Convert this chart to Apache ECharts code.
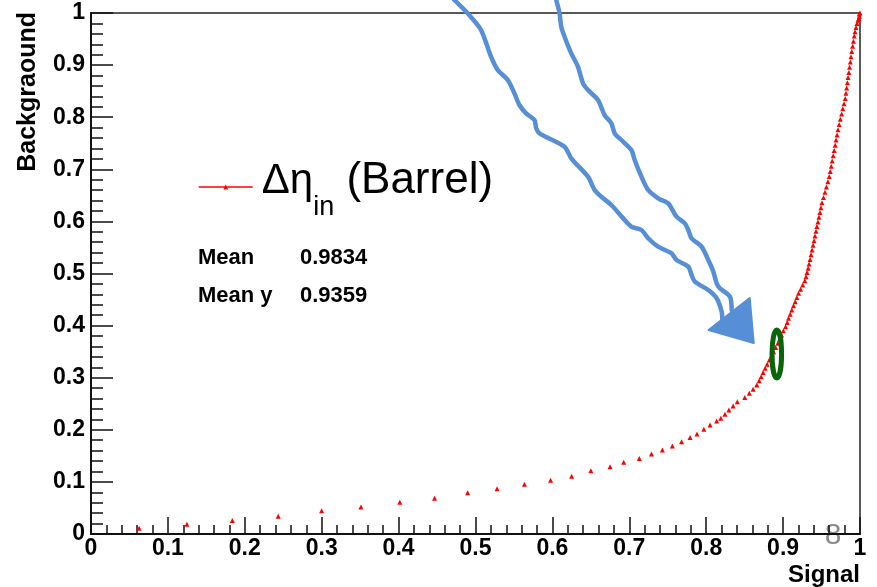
<!DOCTYPE html>
<html>
<head>
<meta charset="utf-8">
<script src="https://cdn.jsdelivr.net/npm/echarts@6/dist/echarts.min.js"></script>
<style>
  html, body { margin: 0; padding: 0; background: #fff; }
  #chart { width: 877px; height: 587px; }
</style>
</head>
<body>
<div id="chart"></div>
<script>
// ROC-style efficiency curve: background efficiency vs signal efficiency
const signal = [
  0.0626, 0.1247, 0.1838, 0.2434, 0.2999, 0.3510, 0.4016, 0.4468, 0.4898, 0.5280,
  0.5636, 0.5976, 0.6250, 0.6500, 0.6750, 0.6927, 0.7130, 0.7288, 0.7430, 0.7560,
  0.7680, 0.7790, 0.7880, 0.7970, 0.8050, 0.8136, 0.8190, 0.8244, 0.8296, 0.8350,
  0.8405, 0.8502, 0.8561, 0.8610, 0.8658, 0.8689, 0.8714, 0.8740, 0.8766, 0.8793,
  0.8820, 0.8848, 0.8876, 0.8903, 0.8931, 0.8955, 0.8980, 0.9003, 0.9032, 0.9054,
  0.9070, 0.9092, 0.9113, 0.9135, 0.9157, 0.9179, 0.9201, 0.9228, 0.9255, 0.9282,
  0.9298, 0.9312, 0.9326, 0.9338, 0.9351, 0.9364, 0.9377, 0.9390, 0.9403, 0.9415,
  0.9428, 0.9440, 0.9453, 0.9466, 0.9479, 0.9492, 0.9505, 0.9525, 0.9544, 0.9563,
  0.9582, 0.9600, 0.9613, 0.9626, 0.9638, 0.9651, 0.9664, 0.9677, 0.9689, 0.9702,
  0.9714, 0.9729, 0.9744, 0.9761, 0.9776, 0.9792, 0.9808, 0.9817, 0.9826, 0.9836,
  0.9845, 0.9855, 0.9864, 0.9874, 0.9883, 0.9893, 0.9904, 0.9915, 0.9925, 0.9936,
  0.9948, 0.9961, 0.9975, 0.9984, 0.9992, 0.9990, 1.0000
];
const background = [
  0.0110, 0.0186, 0.0260, 0.0340, 0.0448, 0.0520, 0.0608, 0.0685, 0.0793, 0.0870,
  0.0954, 0.1030, 0.1110, 0.1215, 0.1290, 0.1376, 0.1450, 0.1535, 0.1610, 0.1690,
  0.1770, 0.1850, 0.1920, 0.2010, 0.2090, 0.2170, 0.2220, 0.2297, 0.2380, 0.2457,
  0.2540, 0.2620, 0.2700, 0.2780, 0.2860, 0.2940, 0.3020, 0.3100, 0.3180, 0.3260,
  0.3340, 0.3420, 0.3500, 0.3580, 0.3660, 0.3740, 0.3820, 0.3900, 0.3980, 0.4060,
  0.4140, 0.4220, 0.4300, 0.4380, 0.4460, 0.4540, 0.4620, 0.4700, 0.4780, 0.4860,
  0.4940, 0.5020, 0.5100, 0.5180, 0.5270, 0.5360, 0.5450, 0.5540, 0.5630, 0.5720,
  0.5810, 0.5900, 0.5990, 0.6080, 0.6170, 0.6260, 0.6360, 0.6460, 0.6560, 0.6660,
  0.6760, 0.6860, 0.6960, 0.7060, 0.7160, 0.7260, 0.7360, 0.7460, 0.7560, 0.7660,
  0.7760, 0.7860, 0.7960, 0.8060, 0.8160, 0.8260, 0.8360, 0.8460, 0.8560, 0.8660,
  0.8760, 0.8860, 0.8960, 0.9060, 0.9160, 0.9260, 0.9360, 0.9460, 0.9560, 0.9640,
  0.9720, 0.9800, 0.9860, 0.9900, 0.9940, 0.9980, 1.0000
];

const seriesName = 'Δη in (Barrel)';
const xTitle = 'Signal';
const yTitle = 'Backgraound';
const statNames = ['Mean', 'Mean y'];
const statValues = ['0.9834', '0.9359'];

// Hand-drawn annotation: two wavy strokes ending in an arrowhead, plus a ring
// around the chosen working point (all in axis units).
const strokeA = [
  [0.4724, 1.0250], [0.4898, 0.9994], [0.5072, 0.9674], [0.5202, 0.9161], [0.5289, 0.8906],
  [0.5420, 0.8714], [0.5506, 0.8459], [0.5571, 0.8234], [0.5658, 0.8075], [0.5767, 0.7946],
  [0.5789, 0.7787], [0.5832, 0.7691], [0.6158, 0.7434], [0.6245, 0.7211], [0.6463, 0.6858],
  [0.6549, 0.6603], [0.6636, 0.6474], [0.6767, 0.6315], [0.6940, 0.6027], [0.7027, 0.5898],
  [0.7158, 0.5835], [0.7245, 0.5676], [0.7375, 0.5514], [0.7549, 0.5388], [0.7614, 0.5259],
  [0.7767, 0.5131], [0.7810, 0.4971], [0.7853, 0.4843], [0.8027, 0.4683], [0.8136, 0.4524],
  [0.8201, 0.4267], [0.8210, 0.4107]
];
const strokeB = [
  [0.6050, 1.0250], [0.6093, 0.9994], [0.6115, 0.9737], [0.6158, 0.9545], [0.6245, 0.9226],
  [0.6332, 0.8970], [0.6398, 0.8651], [0.6463, 0.8522], [0.6593, 0.8330], [0.6679, 0.8042],
  [0.6767, 0.7882], [0.6810, 0.7691], [0.6897, 0.7562], [0.7027, 0.7370], [0.7070, 0.7178],
  [0.7158, 0.6858], [0.7245, 0.6603], [0.7375, 0.6443], [0.7506, 0.6347], [0.7614, 0.6091],
  [0.7722, 0.5962], [0.7767, 0.5835], [0.7810, 0.5675], [0.7940, 0.5514], [0.8027, 0.5259],
  [0.8093, 0.5035], [0.8136, 0.4812], [0.8179, 0.4716], [0.8309, 0.4555], [0.8331, 0.4299]
];
const arrowHead = [[0.8031, 0.3916], [0.8566, 0.4530], [0.8618, 0.3666]];
const ring = [0.8918, 0.3455, 0.0062, 0.0459]; // centre x, centre y, half-width, half-height

const FONT = 'Liberation Sans, Arial, Helvetica, sans-serif';
const ANNOT_BLUE = '#568fd6';

const chart = echarts.init(document.getElementById('chart'), null, { renderer: 'canvas' });

const tickFmt = v => (v === 0 ? '0' : v === 1 ? '1' : v.toFixed(1));

chart.setOption({
  animation: false,
  backgroundColor: '#ffffff',
  grid: {
    left: 91, right: 17, top: 13, bottom: 53,
    outerBoundsMode: 'none', containLabel: false,
    show: true, borderColor: '#222', borderWidth: 1.5, backgroundColor: 'transparent'
  },
  xAxis: {
    type: 'value', min: 0, max: 1, interval: 0.1,
    axisLine: { onZero: false, lineStyle: { color: '#111', width: 2 } },
    axisTick: { inside: true, length: 17, lineStyle: { color: '#111', width: 1.5 } },
    minorTick: { show: true, splitNumber: 5, length: 9, lineStyle: { color: '#111', width: 1.5 } },
    splitLine: { show: false },
    axisLabel: {
      formatter: tickFmt, margin: 3,
      fontFamily: FONT, fontWeight: 'bold', fontSize: 23, color: '#000'
    }
  },
  yAxis: {
    type: 'value', min: 0, max: 1, interval: 0.1,
    axisLine: { show: true, onZero: false, lineStyle: { color: '#111', width: 2 } },
    axisTick: { show: true, inside: true, length: 22, lineStyle: { color: '#111', width: 1.5 } },
    minorTick: { show: true, splitNumber: 5, length: 12, lineStyle: { color: '#111', width: 1.5 } },
    splitLine: { show: false },
    axisLabel: {
      formatter: tickFmt, margin: 6,
      fontFamily: FONT, fontWeight: 'bold', fontSize: 23, color: '#000'
    }
  },
  legend: {
    data: [seriesName],
    left: 198, top: 159, padding: 0,
    itemWidth: 54, itemHeight: 6,
    lineStyle: { color: '#ff0000', width: 1.5, opacity: 1 },
    itemStyle: { color: '#ff0000' },
    formatter: () => '{d|Δη}{s|in}{b| (Barrel)}',
    textStyle: {
      color: '#000',
      rich: {
        d: { fontFamily: FONT, fontSize: 42, lineHeight: 50, padding: [0, 0, 12, 4] },
        s: { fontFamily: FONT, fontSize: 27, lineHeight: 50, verticalAlign: 'top', padding: [32, 0, 0, 0] },
        b: { fontFamily: FONT, fontSize: 44, lineHeight: 50, padding: [0, 0, 12, 0] }
      }
    }
  },
  graphic: [
    {
      type: 'text', x: 28, y: 12, rotation: Math.PI / 2,
      style: { text: yTitle, font: 'bold 25px ' + FONT, fill: '#000', align: 'right', verticalAlign: 'middle' }
    },
    {
      type: 'text', x: 860, y: 575,
      style: { text: xTitle, font: 'bold 24px ' + FONT, fill: '#000', align: 'right', verticalAlign: 'middle' }
    },
    { type: 'text', x: 198, y: 258, style: { text: statNames[0], font: 'bold 22px ' + FONT, fill: '#000', verticalAlign: 'middle' } },
    { type: 'text', x: 300, y: 258, style: { text: statValues[0], font: 'bold 22px ' + FONT, fill: '#000', verticalAlign: 'middle' } },
    { type: 'text', x: 198, y: 296, style: { text: statNames[1], font: 'bold 22px ' + FONT, fill: '#000', verticalAlign: 'middle' } },
    { type: 'text', x: 300, y: 296, style: { text: statValues[1], font: 'bold 22px ' + FONT, fill: '#000', verticalAlign: 'middle' } },
    { type: 'text', x: 833, y: 536, style: { text: '8', font: '30px ' + FONT, fill: '#8c8c8c', align: 'center', verticalAlign: 'middle' } }
  ],
  series: [
    {
      name: seriesName,
      type: 'line',
      data: signal.map((x, i) => [x, background[i]]),
      symbol: 'triangle', symbolSize: 5, showSymbol: true,
      itemStyle: { color: '#ff0000' },
      lineStyle: { width: 0, opacity: 0 },
      z: 3
    },
    {
      type: 'line', data: strokeA, silent: true, clip: false, smooth: 0.25,
      showSymbol: false, lineStyle: { color: ANNOT_BLUE, width: 4.5, cap: 'round', join: 'round' }, z: 5
    },
    {
      type: 'line', data: strokeB, silent: true, clip: false, smooth: 0.25,
      showSymbol: false, lineStyle: { color: ANNOT_BLUE, width: 4.5, cap: 'round', join: 'round' }, z: 5
    },
    {
      type: 'custom', silent: true, clip: false, z: 6,
      data: [arrowHead[0]],
      renderItem: (params, api) => ({
        type: 'polygon',
        shape: { points: arrowHead.map(p => api.coord(p)) },
        style: { fill: ANNOT_BLUE, stroke: ANNOT_BLUE, lineWidth: 2, lineJoin: 'round' }
      })
    },
    {
      type: 'custom', silent: true, clip: false, z: 6,
      data: [[ring[0], ring[1]]],
      renderItem: (params, api) => {
        const c = api.coord([ring[0], ring[1]]);
        const e = api.coord([ring[0] + ring[2], ring[1] + ring[3]]);
        const rx = e[0] - c[0], ry = c[1] - e[1];
        return {
          type: 'path',
          shape: {
            pathData: 'M0,1A1,1,0,1,1,2,1A1,1,0,1,1,0,1Z',
            x: c[0] - rx, y: c[1] - ry, width: 2 * rx, height: 2 * ry, layout: 'cover'
          },
          style: { fill: 'none', stroke: '#0a650a', lineWidth: 5 }
        };
      }
    }
  ]
});
</script>
</body>
</html>
